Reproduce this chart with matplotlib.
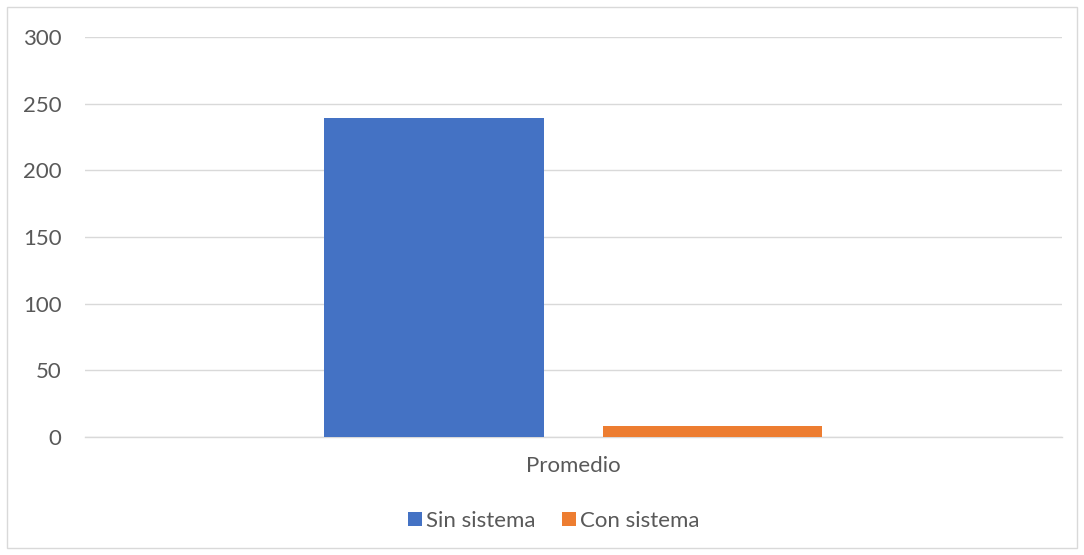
import matplotlib
matplotlib.use("Agg")
import matplotlib.pyplot as plt
from matplotlib.patches import Rectangle

categories = ["Promedio"]
series_names = ["Sin sistema", "Con sistema"]
series_values = [[239], [8]]
colors = ["#4472C4", "#ED7D31"]
yticks = [0, 50, 100, 150, 200, 250, 300]

plt.rcParams['font.family'] = ['Lato', 'DejaVu Sans']
W, H = 1084, 555
fig = plt.figure(figsize=(W/100, H/100), dpi=100)
fig.patch.set_facecolor("white")
fig.patches.append(Rectangle((7/W, 7/H), (1077-7)/W, (548-7)/H, transform=fig.transFigure,
                             fill=False, edgecolor="#D9D9D9", linewidth=1))

ax = fig.add_axes([85/W, (555-436.7)/H, (1062-85)/W, (436.7-37.1)/H])
offsets = [-0.1428, 0.1423]
width = 0.225
handles = []
for i, (name, vals) in enumerate(zip(series_names, series_values)):
    b = ax.bar([offsets[i]], vals, width=width, color=colors[i], label=name, zorder=3)
    handles.append(b)

ax.set_xlim(-0.5, 0.5)
ax.set_ylim(0, 300)
ax.set_yticks(yticks)
ax.set_yticklabels([str(t) for t in yticks])
ax.set_xticks([0])
ax.set_xticklabels(categories)
ax.grid(axis="y", color="#D9D9D9", linewidth=1, zorder=0)
for s in ["top", "right", "left"]:
    ax.spines[s].set_visible(False)
ax.spines["bottom"].set_color("#D9D9D9")
ax.spines["bottom"].set_linewidth(1)
ax.tick_params(axis="both", length=0, colors="#595959", labelsize=16)
ax.tick_params(axis="y", pad=17)
ax.tick_params(axis="x", pad=14)

leg = fig.legend(handles=handles, labels=series_names, loc="center", bbox_to_anchor=(554/W, (555-521)/H),
                 ncol=2, frameon=False, fontsize=16, handlelength=0.6, handleheight=0.6,
                 handletextpad=0.2, columnspacing=1.2)
for t in leg.get_texts():
    t.set_color("#595959")

fig.savefig("out.png", dpi=100, facecolor="white")
